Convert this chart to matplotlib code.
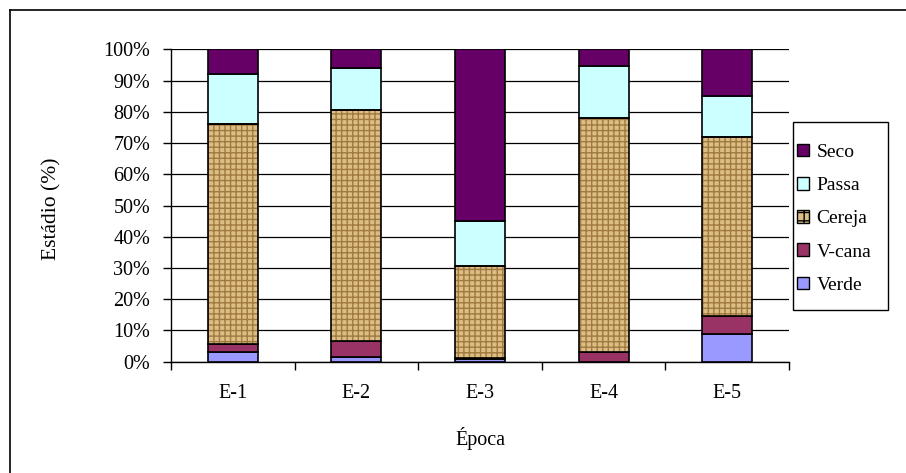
import matplotlib
matplotlib.use("Agg")
import matplotlib.pyplot as plt
import matplotlib.ticker as ticker
from matplotlib.lines import Line2D
from matplotlib.patches import Patch, Rectangle
import numpy as np

# Data (percent of each stage per epoch)
epocas = ["E-1", "E-2", "E-3", "E-4", "E-5"]
verde = [3.2, 1.5, 0.8, 0.0, 9.0]
v_cana = [2.5, 5.0, 0.4, 3.2, 5.6]
cereja = [70.5, 74.0, 29.6, 74.8, 57.3]
passa = [15.8, 13.5, 14.4, 16.8, 13.1]
seco = [8.0, 6.0, 54.8, 5.2, 15.0]

series = [
    ("Verde", verde, "#9999FF"),
    ("V-cana", v_cana, "#993366"),
    ("Cereja", cereja, "#DCBE84"),
    ("Passa", passa, "#CCFFFF"),
    ("Seco", seco, "#660066"),
]

plt.rcParams["font.family"] = ["Liberation Serif", "DejaVu Serif"]
plt.rcParams["font.size"] = 14

W, H = 906, 473
fig = plt.figure(figsize=(W / 100, H / 100), dpi=100)
ax = fig.add_axes([171 / W, 1 - 361.7 / H, (789 - 171) / W, (361.7 - 49.5) / H])

x = np.arange(len(epocas))
width = 0.405
bottom = np.zeros(len(epocas))
handles = []
for name, vals, color in series:
    vals = np.array(vals)
    if name == "Cereja":
        # woven texture: tan fill with brown hatch, black outline on top
        ax.bar(x, vals, width, bottom=bottom, color=color, edgecolor="#A07A40",
               hatch="+++", linewidth=0, zorder=3)
        ax.bar(x, vals, width, bottom=bottom, color="none", edgecolor="black",
               linewidth=1.2, zorder=4)
        handles.append(Patch(facecolor=color, edgecolor="black", hatch="++",
                             label=name))
    else:
        ax.bar(x, vals, width, bottom=bottom, color=color, edgecolor="black",
               linewidth=1.2, zorder=3)
        handles.append(Patch(facecolor=color, edgecolor="black", label=name))
    bottom += vals

ax.set_xlim(-0.5, len(epocas) - 0.5)
ax.set_ylim(0, 100)
ax.yaxis.set_major_locator(ticker.MultipleLocator(10))
ax.yaxis.set_major_formatter(ticker.FuncFormatter(lambda v, p: f"{v:.0f}%"))
ax.grid(axis="y", color="black", linewidth=0.9, zorder=0)

ax.set_xticks(x)
ax.set_xticklabels(epocas)
ax.tick_params(axis="x", which="major", length=0, pad=16, labelsize=14.5)
ax.set_xticks(np.arange(len(epocas) + 1) - 0.5, minor=True)
ax.tick_params(axis="x", which="minor", length=6, width=1, direction="out")
ax.tick_params(axis="y", length=6, width=1, direction="out", pad=9, labelsize=14.5)

for side in ["top", "right"]:
    ax.spines[side].set_visible(False)
ax.spines["left"].set_linewidth(1)
ax.spines["bottom"].set_linewidth(1)

ax.set_xlabel("Época", fontsize=14.5)
ax.set_ylabel("Estádio (%)", fontsize=15.5)
ax.xaxis.set_label_coords(0.5, -0.21)
ax.yaxis.set_label_coords(-0.178, 0.49)

# legend: entries without frame, frame drawn as a separate box
leg = fig.legend(handles=handles[::-1], loc="upper left",
                 bbox_to_anchor=(797 / W, 1 - 144 / H), frameon=False,
                 fontsize=14, handlelength=0.6, handleheight=0.6,
                 handletextpad=0.4, labelspacing=0.83, borderpad=0,
                 borderaxespad=0)
fig.add_artist(Rectangle((793 / W, 1 - 310 / H), 95 / W, 188 / H,
                         transform=fig.transFigure, facecolor="none",
                         edgecolor="black", linewidth=1))

# outer chart border (left and top edges are visible)
fig.add_artist(Line2D([10 / W, 10 / W], [0, 1 - 10 / H], color="black", lw=1.2))
fig.add_artist(Line2D([10 / W, 1], [1 - 10 / H, 1 - 10 / H], color="black", lw=1.2))

fig.savefig("out.png", dpi=100)
